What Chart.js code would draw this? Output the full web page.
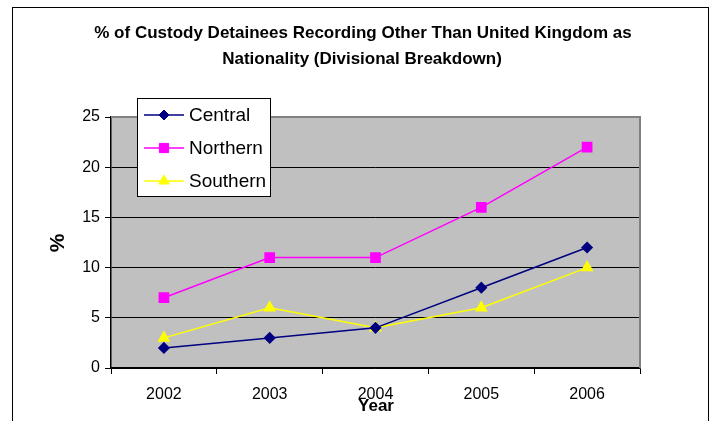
<!DOCTYPE html>
<html>
<head>
<meta charset="utf-8">
<script src="https://cdn.jsdelivr.net/npm/chart.js@4"></script>
<style>
  html, body { margin: 0; padding: 0; background: #fff; }
  #wrap { width: 711px; height: 421px; }
</style>
</head>
<body>
<div id="wrap"><canvas id="c" width="711" height="421"></canvas></div>
<script>
// Category labels and series values
const years = ['2002', '2003', '2004', '2005', '2006'];
const central = [2, 3, 4, 8, 12];
const northern = [7, 11, 11, 16, 22];
const southern = [3, 6, 4, 6, 10];
const yTicks = [0, 5, 10, 15, 20, 25];

const titleLines = ['% of Custody Detainees Recording Other Than United Kingdom as',
                    'Nationality (Divisional Breakdown)'];
const FONT = '"Liberation Sans", Arial, sans-serif';

// Frame, plot fill, plot border, titles and the boxed legend
const decorations = {
  id: 'decorations',
  beforeDraw(chart) {
    const { ctx, chartArea: a } = chart;
    ctx.save();
    ctx.fillStyle = '#fff';
    ctx.fillRect(0, 0, chart.width, chart.height);
    ctx.fillStyle = '#C0C0C0';
    ctx.fillRect(a.left, a.top, a.right - a.left, a.bottom - a.top);
    ctx.restore();
  },
  afterDatasetsDraw(chart) {
    const { ctx, chartArea: a } = chart;
    ctx.save();
    // plot border on top and right
    ctx.strokeStyle = '#808080';
    ctx.lineWidth = 2;
    ctx.beginPath();
    ctx.moveTo(a.left, a.top);
    ctx.lineTo(a.right, a.top);
    ctx.lineTo(a.right, a.bottom);
    ctx.stroke();

    // outer frame
    ctx.strokeStyle = '#000';
    ctx.lineWidth = 1;
    ctx.strokeRect(12.5, 7.5, 696, 440);

    // title
    ctx.fillStyle = '#000';
    ctx.font = 'bold 17px ' + FONT;
    ctx.textAlign = 'center';
    ctx.textBaseline = 'middle';
    ctx.fillText(titleLines[0], 363, 33);
    ctx.fillText(titleLines[1], 362, 59);

    // axis titles
    ctx.font = 'bold 17px ' + FONT;
    ctx.fillText('Year', 376, 406);
    ctx.font = 'bold 21px ' + FONT;
    ctx.save();
    ctx.translate(58, 243);
    ctx.rotate(-Math.PI / 2);
    ctx.fillText('%', 0, 0);
    ctx.restore();

    // legend box
    const lx = 137, ly = 98, lw = 133, lh = 98;
    ctx.fillStyle = '#fff';
    ctx.fillRect(lx, ly, lw, lh);
    ctx.strokeStyle = '#000';
    ctx.lineWidth = 1;
    ctx.strokeRect(lx + 0.5, ly + 0.5, lw, lh);
    ctx.font = '19px ' + FONT;
    ctx.textAlign = 'left';
    chart.data.datasets.forEach((ds, i) => {
      const y = 115 + i * 33;
      ctx.strokeStyle = ds.borderColor;
      ctx.lineWidth = 1.5;
      ctx.beginPath();
      ctx.moveTo(144, y);
      ctx.lineTo(184, y);
      ctx.stroke();
      ctx.fillStyle = ds.pointBackgroundColor;
      ctx.strokeStyle = ds.pointBorderColor;
      ctx.lineWidth = 1;
      Chart.helpers.drawPoint(ctx, {
        pointStyle: ds.pointStyle,
        radius: ds.pointRadius,
        rotation: 0,
        borderWidth: 1
      }, 164, y);
      ctx.fillStyle = '#000';
      ctx.fillText(ds.label, 189, y + 1);
    });
    ctx.restore();
  }
};

function series(label, data, color, style, radius) {
  return {
    label, data,
    borderColor: color,
    backgroundColor: color,
    pointBackgroundColor: color,
    pointBorderColor: color,
    pointStyle: style,
    pointRadius: radius,
    pointHoverRadius: radius,
    borderWidth: 1.5,
    tension: 0
  };
}

new Chart(document.getElementById('c'), {
  type: 'line',
  data: {
    labels: years,
    datasets: [
      series('Central', central, '#000080', 'rectRot', 5),
      series('Northern', northern, '#FF00FF', 'rect', 6.5),
      series('Southern', southern, '#FFFF00', 'triangle', 6)
    ]
  },
  options: {
    responsive: false,
    animation: false,
    events: [],
    layout: { padding: { top: 117, right: 71, left: 0, bottom: 0 } },
    plugins: { legend: { display: false }, title: { display: false }, tooltip: { enabled: false } },
    scales: {
      x: {
        offset: true,
        afterFit(s) { s.height = 53; },
        grid: {
          offset: true,
          drawOnChartArea: false,
          drawTicks: true,
          tickLength: 6,
          color: '#000'
        },
        border: { color: '#000', width: 1.5 },
        ticks: { color: '#000', font: { family: FONT, size: 16 }, padding: 11 }
      },
      y: {
        min: 0, max: 25,
        afterFit(s) { s.width = 111; },
        afterBuildTicks(s) { s.ticks = yTicks.map(v => ({ value: v })); },
        grid: { color: '#000', lineWidth: 1, tickLength: 6 },
        border: { color: '#000', width: 1.5 },
        ticks: { color: '#000', font: { family: FONT, size: 16 }, padding: 5 }
      }
    }
  },
  plugins: [decorations]
});
</script>
</body>
</html>
